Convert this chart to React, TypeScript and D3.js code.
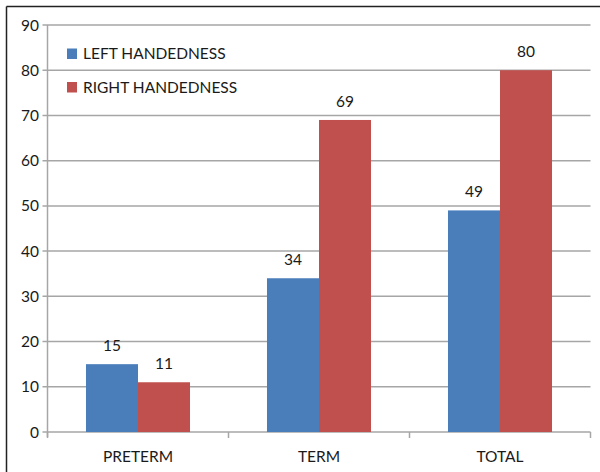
import React from "react";
import * as d3 from "d3";

const categories = ["PRETERM", "TERM", "TOTAL"];
const seriesNames = ["LEFT HANDEDNESS", "RIGHT HANDEDNESS"];
const leftValues = [15, 34, 49];
const rightValues = [11, 69, 80];
const yTicks = [0, 10, 20, 30, 40, 50, 60, 70, 80, 90];
const colors = ["#4a7ebb", "#c0504d"];

export default function App() {
  const W = 600, H = 472;
  const left = 47.5, right = 590.5, top = 25, bottom = 432;
  const font = "Lato, 'Open Sans', sans-serif";
  const x = d3.scaleBand<string>().domain(categories).range([left, right]).paddingInner(0).paddingOuter(0);
  const inner = d3.scaleBand<string>().domain(seriesNames).range([0, x.bandwidth()]).paddingOuter(0.74).paddingInner(0);
  const y = d3.scaleLinear().domain([0, 90]).range([bottom, top]);
  const series = [leftValues, rightValues];
  const grid = "#a6a6a6";
  return (
    <svg width={W} height={H} style={{ position: "absolute", left: 0, top: 0, background: "#fff" }}>
      <line x1={6.5} y1={6.5} x2={W} y2={6.5} stroke="#222" strokeWidth={1.5} />
      <line x1={6.5} y1={6.5} x2={6.5} y2={H} stroke="#222" strokeWidth={1.5} />
      {yTicks.map((t) => (
        <g key={t}>
          <line x1={left - 5} x2={right} y1={y(t)} y2={y(t)} stroke={grid} strokeWidth={1.5} />
          <text x={39} y={y(t) + 5.5} textAnchor="end" fontFamily={font} fontSize={15.5} fill="#1a1a1a">{t}</text>
        </g>
      ))}
      <line x1={left} x2={left} y1={top} y2={bottom + 5} stroke={grid} strokeWidth={1.5} />
      {[...categories.map((c) => x(c)!), right].map((v, i) => (
        <line key={i} x1={v} x2={v} y1={bottom} y2={bottom + 6} stroke={grid} strokeWidth={1.5} />
      ))}
      {categories.map((c, ci) => (
        <g key={c}>
          {series.map((vals, si) => {
            const bx = x(c)! + inner(seriesNames[si])!;
            const bw = inner.bandwidth();
            return (
              <g key={si}>
                <rect x={bx} y={y(vals[ci])} width={bw} height={bottom - y(vals[ci])} fill={colors[si]} />
                <text x={bx + bw / 2} y={y(vals[ci]) - 13} textAnchor="middle" fontFamily={font} fontSize={15.5} fill="#1a1a1a">{vals[ci]}</text>
              </g>
            );
          })}
          <text x={x(c)! + x.bandwidth() / 2} y={461.5} textAnchor="middle" fontFamily={font} fontSize={15.5} fill="#1a1a1a">{c}</text>
        </g>
      ))}
      {seriesNames.map((s, i) => (
        <g key={s}>
          <rect x={67} y={48.5 + i * 33.5} width={10} height={10.5} fill={colors[i]} />
          <text x={83} y={59 + i * 33.5} fontFamily={font} fontSize={15.5} fill="#1a1a1a">{s}</text>
        </g>
      ))}
    </svg>
  );
}
